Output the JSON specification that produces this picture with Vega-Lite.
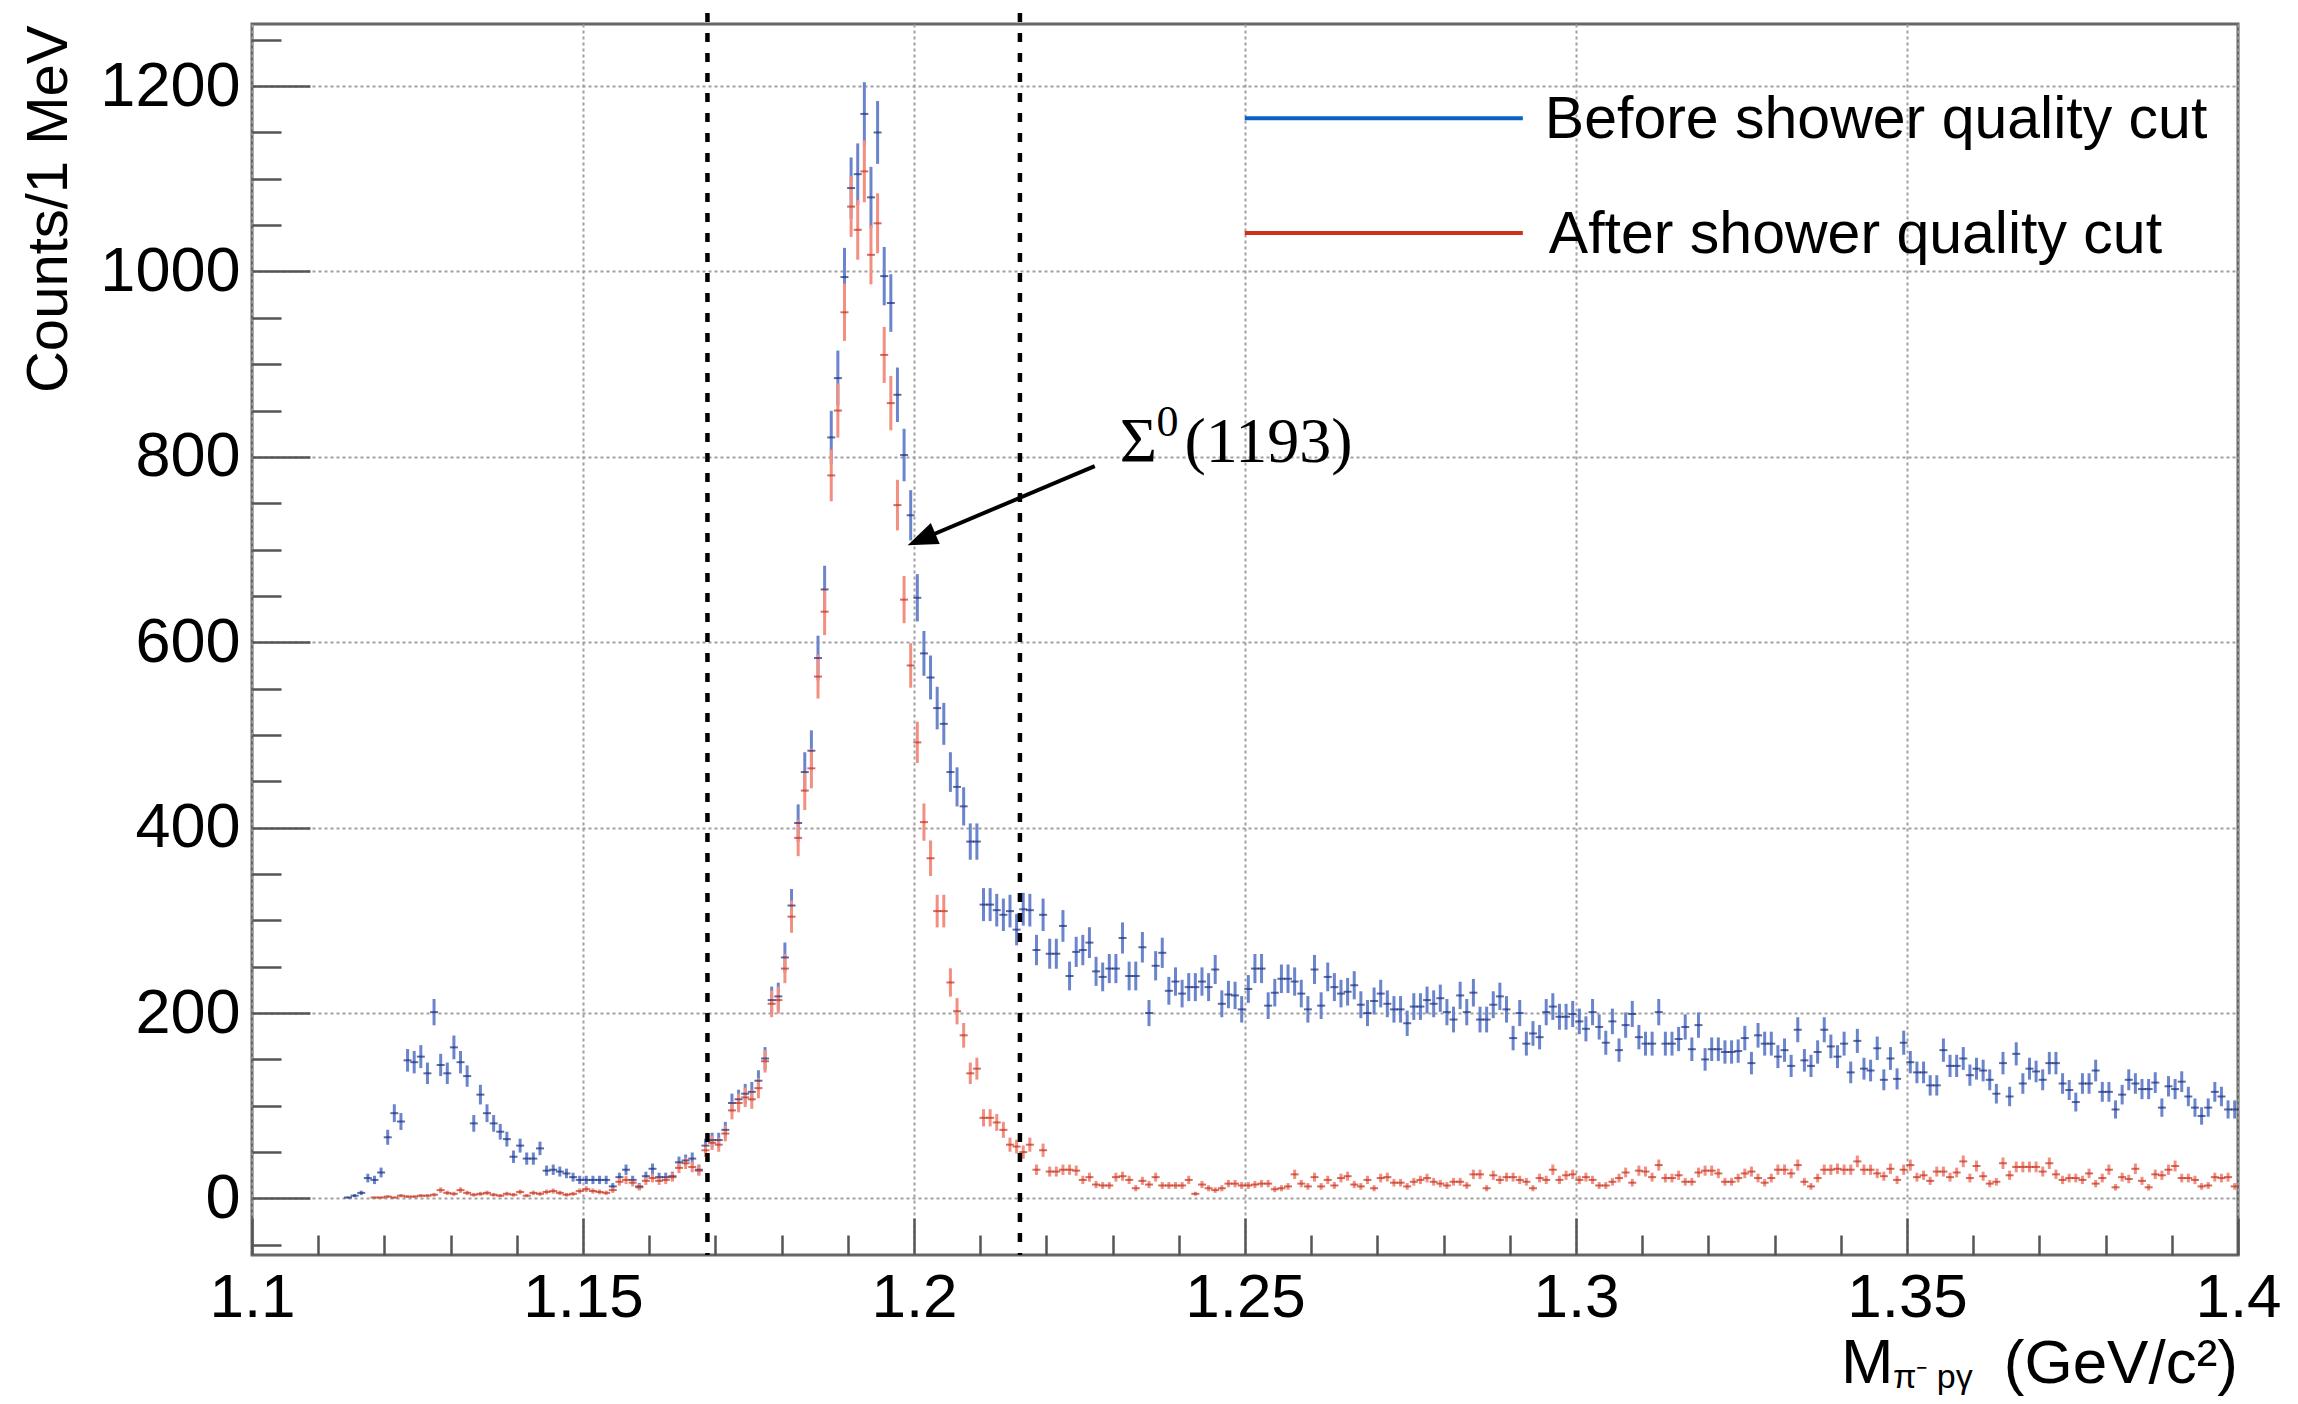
{
"$schema": "https://vega.github.io/schema/vega-lite/v6.json",
"width": 1986,
"height": 1231,
"autosize": "none",
"padding": {"left": 252, "top": 24, "right": 60, "bottom": 149},
"background": "white",
"config": {"view": {"stroke": "#666666", "strokeWidth": 3}, "font": "Liberation Sans"},
"resolve": {"axis": {"x": "independent", "y": "independent"}},
"datasets": {
"before": [
{"m":1.1145,"n":1,"e":1},{"m":1.1155,"n":3,"e":1.7},{"m":1.1165,"n":6,"e":2.4},{"m":1.1175,"n":22,"e":4.7},{"m":1.1185,"n":20,"e":4.5},{"m":1.1195,"n":28,"e":5.3},{"m":1.1205,"n":66,"e":8.1},{"m":1.1215,"n":92,"e":9.6},{"m":1.1225,"n":83,"e":9.1},{"m":1.1235,"n":149,"e":12.2},
{"m":1.1245,"n":147,"e":12.1},{"m":1.1255,"n":153,"e":12.4},{"m":1.1265,"n":135,"e":11.6},{"m":1.1275,"n":201,"e":14.2},{"m":1.1285,"n":144,"e":12},{"m":1.1295,"n":135,"e":11.6},{"m":1.1305,"n":163,"e":12.8},{"m":1.1315,"n":147,"e":12.1},{"m":1.1325,"n":132,"e":11.5},{"m":1.1335,"n":81,"e":9},
{"m":1.1345,"n":112,"e":10.6},{"m":1.1355,"n":92,"e":9.6},{"m":1.1365,"n":81,"e":9},{"m":1.1375,"n":72,"e":8.5},{"m":1.1385,"n":64,"e":8},{"m":1.1395,"n":45,"e":6.7},{"m":1.1405,"n":57,"e":7.5},{"m":1.1415,"n":43,"e":6.6},{"m":1.1425,"n":43,"e":6.6},{"m":1.1435,"n":54,"e":7.3},
{"m":1.1445,"n":30,"e":5.5},{"m":1.1455,"n":31,"e":5.6},{"m":1.1465,"n":29,"e":5.4},{"m":1.1475,"n":27,"e":5.2},{"m":1.1485,"n":23,"e":4.8},{"m":1.1495,"n":20,"e":4.5},{"m":1.1505,"n":20,"e":4.5},{"m":1.1515,"n":20,"e":4.5},{"m":1.1525,"n":20,"e":4.5},{"m":1.1535,"n":20,"e":4.5},
{"m":1.1545,"n":13,"e":3.6},{"m":1.1555,"n":23,"e":4.8},{"m":1.1565,"n":31,"e":5.6},{"m":1.1575,"n":20,"e":4.5},{"m":1.1585,"n":13,"e":3.6},{"m":1.1595,"n":24,"e":4.9},{"m":1.1605,"n":32,"e":5.7},{"m":1.1615,"n":23,"e":4.8},{"m":1.1625,"n":23,"e":4.8},{"m":1.1635,"n":24,"e":4.9},
{"m":1.1645,"n":39,"e":6.2},{"m":1.1655,"n":41,"e":6.4},{"m":1.1665,"n":43,"e":6.6},{"m":1.1675,"n":31,"e":5.6},{"m":1.1685,"n":57,"e":7.5},{"m":1.1695,"n":63,"e":7.9},{"m":1.1705,"n":63,"e":7.9},{"m":1.1715,"n":74,"e":8.6},{"m":1.1725,"n":103,"e":10.1},{"m":1.1735,"n":107,"e":10.3},
{"m":1.1745,"n":113,"e":10.6},{"m":1.1755,"n":115,"e":10.7},{"m":1.1765,"n":127,"e":11.3},{"m":1.1775,"n":151,"e":12.3},{"m":1.1785,"n":214,"e":14.6},{"m":1.1795,"n":218,"e":14.8},{"m":1.1805,"n":260,"e":16.1},{"m":1.1815,"n":316,"e":17.8},{"m":1.1825,"n":405,"e":20.1},{"m":1.1835,"n":460,"e":21.4},
{"m":1.1845,"n":483,"e":22},{"m":1.1855,"n":583,"e":24.1},{"m":1.1865,"n":657,"e":25.6},{"m":1.1875,"n":821,"e":28.7},{"m":1.1885,"n":885,"e":29.7},{"m":1.1895,"n":994,"e":31.5},{"m":1.1905,"n":1090,"e":33},{"m":1.1915,"n":1105,"e":33.2},{"m":1.1925,"n":1170,"e":34.2},{"m":1.1935,"n":1080,"e":32.9},
{"m":1.1945,"n":1150,"e":33.9},{"m":1.1955,"n":995,"e":31.5},{"m":1.1965,"n":966,"e":31.1},{"m":1.1975,"n":867,"e":29.4},{"m":1.1985,"n":802,"e":28.3},{"m":1.1995,"n":737,"e":27.1},{"m":1.2005,"n":648,"e":25.5},{"m":1.2015,"n":588,"e":24.2},{"m":1.2025,"n":562,"e":23.7},{"m":1.2035,"n":529,"e":23},
{"m":1.2045,"n":512,"e":22.6},{"m":1.2055,"n":460,"e":21.4},{"m":1.2065,"n":444,"e":21.1},{"m":1.2075,"n":423,"e":20.6},{"m":1.2085,"n":385,"e":19.6},{"m":1.2095,"n":385,"e":19.6},{"m":1.2105,"n":317,"e":17.8},{"m":1.2115,"n":317,"e":17.8},{"m":1.2125,"n":311,"e":17.6},{"m":1.2135,"n":306,"e":17.5},
{"m":1.2145,"n":310,"e":17.6},{"m":1.2155,"n":290,"e":17},{"m":1.2165,"n":312,"e":17.7},{"m":1.2175,"n":311,"e":17.6},{"m":1.2185,"n":268,"e":16.4},{"m":1.2195,"n":306,"e":17.5},{"m":1.2205,"n":264,"e":16.2},{"m":1.2215,"n":264,"e":16.2},{"m":1.2225,"n":294,"e":17.1},{"m":1.2235,"n":240,"e":15.5},
{"m":1.2245,"n":266,"e":16.3},{"m":1.2255,"n":268,"e":16.4},{"m":1.2265,"n":276,"e":16.6},{"m":1.2275,"n":245,"e":15.7},{"m":1.2285,"n":239,"e":15.5},{"m":1.2295,"n":248,"e":15.7},{"m":1.2305,"n":248,"e":15.7},{"m":1.2315,"n":281,"e":16.8},{"m":1.2325,"n":240,"e":15.5},{"m":1.2335,"n":240,"e":15.5},
{"m":1.2345,"n":271,"e":16.5},{"m":1.2355,"n":200,"e":14.1},{"m":1.2365,"n":251,"e":15.8},{"m":1.2375,"n":265,"e":16.3},{"m":1.2385,"n":224,"e":15},{"m":1.2395,"n":234,"e":15.3},{"m":1.2405,"n":221,"e":14.9},{"m":1.2415,"n":228,"e":15.1},{"m":1.2425,"n":228,"e":15.1},{"m":1.2435,"n":234,"e":15.3},
{"m":1.2445,"n":228,"e":15.1},{"m":1.2455,"n":247,"e":15.7},{"m":1.2465,"n":210,"e":14.5},{"m":1.2475,"n":220,"e":14.8},{"m":1.2485,"n":219,"e":14.8},{"m":1.2495,"n":204,"e":14.3},{"m":1.2505,"n":226,"e":15},{"m":1.2515,"n":248,"e":15.7},{"m":1.2525,"n":248,"e":15.7},{"m":1.2535,"n":208,"e":14.4},
{"m":1.2545,"n":222,"e":14.9},{"m":1.2555,"n":237,"e":15.4},{"m":1.2565,"n":237,"e":15.4},{"m":1.2575,"n":234,"e":15.3},{"m":1.2585,"n":221,"e":14.9},{"m":1.2595,"n":204,"e":14.3},{"m":1.2605,"n":247,"e":15.7},{"m":1.2615,"n":208,"e":14.4},{"m":1.2625,"n":239,"e":15.5},{"m":1.2635,"n":228,"e":15.1},
{"m":1.2645,"n":221,"e":14.9},{"m":1.2655,"n":223,"e":14.9},{"m":1.2665,"n":230,"e":15.2},{"m":1.2675,"n":209,"e":14.5},{"m":1.2685,"n":200,"e":14.1},{"m":1.2695,"n":213,"e":14.6},{"m":1.2705,"n":221,"e":14.9},{"m":1.2715,"n":210,"e":14.5},{"m":1.2725,"n":204,"e":14.3},{"m":1.2735,"n":204,"e":14.3},
{"m":1.2745,"n":189,"e":13.7},{"m":1.2755,"n":207,"e":14.4},{"m":1.2765,"n":207,"e":14.4},{"m":1.2775,"n":214,"e":14.6},{"m":1.2785,"n":210,"e":14.5},{"m":1.2795,"n":216,"e":14.7},{"m":1.2805,"n":201,"e":14.2},{"m":1.2815,"n":193,"e":13.9},{"m":1.2825,"n":219,"e":14.8},{"m":1.2835,"n":201,"e":14.2},
{"m":1.2845,"n":222,"e":14.9},{"m":1.2855,"n":193,"e":13.9},{"m":1.2865,"n":193,"e":13.9},{"m":1.2875,"n":209,"e":14.5},{"m":1.2885,"n":218,"e":14.8},{"m":1.2895,"n":204,"e":14.3},{"m":1.2905,"n":173,"e":13.2},{"m":1.2915,"n":200,"e":14.1},{"m":1.2925,"n":167,"e":12.9},{"m":1.2935,"n":178,"e":13.3},
{"m":1.2945,"n":174,"e":13.2},{"m":1.2955,"n":201,"e":14.2},{"m":1.2965,"n":207,"e":14.4},{"m":1.2975,"n":196,"e":14},{"m":1.2985,"n":196,"e":14},{"m":1.2995,"n":199,"e":14.1},{"m":1.3005,"n":191,"e":13.8},{"m":1.3015,"n":183,"e":13.5},{"m":1.3025,"n":201,"e":14.2},{"m":1.3035,"n":185,"e":13.6},
{"m":1.3045,"n":168,"e":13},{"m":1.3055,"n":191,"e":13.8},{"m":1.3065,"n":160,"e":12.6},{"m":1.3075,"n":187,"e":13.7},{"m":1.3085,"n":199,"e":14.1},{"m":1.3095,"n":174,"e":13.2},{"m":1.3105,"n":167,"e":12.9},{"m":1.3115,"n":167,"e":12.9},{"m":1.3125,"n":201,"e":14.2},{"m":1.3135,"n":167,"e":12.9},
{"m":1.3145,"n":167,"e":12.9},{"m":1.3155,"n":172,"e":13.1},{"m":1.3165,"n":185,"e":13.6},{"m":1.3175,"n":161,"e":12.7},{"m":1.3185,"n":187,"e":13.7},{"m":1.3195,"n":150,"e":12.2},{"m":1.3205,"n":161,"e":12.7},{"m":1.3215,"n":161,"e":12.7},{"m":1.3225,"n":158,"e":12.6},{"m":1.3235,"n":158,"e":12.6},
{"m":1.3245,"n":159,"e":12.6},{"m":1.3255,"n":173,"e":13.2},{"m":1.3265,"n":146,"e":12.1},{"m":1.3275,"n":176,"e":13.3},{"m":1.3285,"n":167,"e":12.9},{"m":1.3295,"n":167,"e":12.9},{"m":1.3305,"n":153,"e":12.4},{"m":1.3315,"n":160,"e":12.6},{"m":1.3325,"n":143,"e":12},{"m":1.3335,"n":182,"e":13.5},
{"m":1.3345,"n":149,"e":12.2},{"m":1.3355,"n":143,"e":12},{"m":1.3365,"n":158,"e":12.6},{"m":1.3375,"n":182,"e":13.5},{"m":1.3385,"n":164,"e":12.8},{"m":1.3395,"n":153,"e":12.4},{"m":1.3405,"n":167,"e":12.9},{"m":1.3415,"n":136,"e":11.7},{"m":1.3425,"n":170,"e":13},{"m":1.3435,"n":140,"e":11.8},
{"m":1.3445,"n":138,"e":11.7},{"m":1.3455,"n":162,"e":12.7},{"m":1.3465,"n":128,"e":11.3},{"m":1.3475,"n":151,"e":12.3},{"m":1.3485,"n":129,"e":11.4},{"m":1.3495,"n":168,"e":13},{"m":1.3505,"n":147,"e":12.1},{"m":1.3515,"n":136,"e":11.7},{"m":1.3525,"n":136,"e":11.7},{"m":1.3535,"n":122,"e":11},
{"m":1.3545,"n":122,"e":11},{"m":1.3555,"n":160,"e":12.6},{"m":1.3565,"n":143,"e":12},{"m":1.3575,"n":143,"e":12},{"m":1.3585,"n":151,"e":12.3},{"m":1.3595,"n":133,"e":11.5},{"m":1.3605,"n":140,"e":11.8},{"m":1.3615,"n":138,"e":11.7},{"m":1.3625,"n":128,"e":11.3},{"m":1.3635,"n":113,"e":10.6},
{"m":1.3645,"n":146,"e":12.1},{"m":1.3655,"n":110,"e":10.5},{"m":1.3665,"n":156,"e":12.5},{"m":1.3675,"n":124,"e":11.1},{"m":1.3685,"n":140,"e":11.8},{"m":1.3695,"n":137,"e":11.7},{"m":1.3705,"n":128,"e":11.3},{"m":1.3715,"n":146,"e":12.1},{"m":1.3725,"n":146,"e":12.1},{"m":1.3735,"n":124,"e":11.1},
{"m":1.3745,"n":117,"e":10.8},{"m":1.3755,"n":104,"e":10.2},{"m":1.3765,"n":124,"e":11.1},{"m":1.3775,"n":124,"e":11.1},{"m":1.3785,"n":138,"e":11.7},{"m":1.3795,"n":115,"e":10.7},{"m":1.3805,"n":115,"e":10.7},{"m":1.3815,"n":96,"e":9.8},{"m":1.3825,"n":112,"e":10.6},{"m":1.3835,"n":128,"e":11.3},
{"m":1.3845,"n":124,"e":11.1},{"m":1.3855,"n":118,"e":10.9},{"m":1.3865,"n":118,"e":10.9},{"m":1.3875,"n":125,"e":11.2},{"m":1.3885,"n":98,"e":9.9},{"m":1.3895,"n":121,"e":11},{"m":1.3905,"n":118,"e":10.9},{"m":1.3915,"n":126,"e":11.2},{"m":1.3925,"n":110,"e":10.5},{"m":1.3935,"n":98,"e":9.9},
{"m":1.3945,"n":89,"e":9.4},{"m":1.3955,"n":98,"e":9.9},{"m":1.3965,"n":115,"e":10.7},{"m":1.3975,"n":110,"e":10.5},{"m":1.3985,"n":96,"e":9.8},{"m":1.3995,"n":96,"e":9.8}
],
"after": [
{"m":1.1185,"n":1,"e":1},{"m":1.1195,"n":1,"e":1},{"m":1.1205,"n":2,"e":1.4},{"m":1.1215,"n":1,"e":1},{"m":1.1225,"n":3,"e":1.7},{"m":1.1235,"n":2,"e":1.4},{"m":1.1245,"n":2,"e":1.4},{"m":1.1255,"n":3,"e":1.7},{"m":1.1265,"n":3,"e":1.7},{"m":1.1275,"n":4,"e":2},
{"m":1.1285,"n":9,"e":3},{"m":1.1295,"n":6,"e":2.4},{"m":1.1305,"n":5,"e":2.2},{"m":1.1315,"n":9,"e":3},{"m":1.1325,"n":6,"e":2.4},{"m":1.1335,"n":4,"e":2},{"m":1.1345,"n":5,"e":2.2},{"m":1.1355,"n":6,"e":2.4},{"m":1.1365,"n":4,"e":2},{"m":1.1375,"n":3,"e":1.7},
{"m":1.1385,"n":5,"e":2.2},{"m":1.1395,"n":4,"e":2},{"m":1.1405,"n":7,"e":2.6},{"m":1.1415,"n":3,"e":1.7},{"m":1.1425,"n":6,"e":2.4},{"m":1.1435,"n":5,"e":2.2},{"m":1.1445,"n":7,"e":2.6},{"m":1.1455,"n":8,"e":2.8},{"m":1.1465,"n":6,"e":2.4},{"m":1.1475,"n":4,"e":2},
{"m":1.1485,"n":5,"e":2.2},{"m":1.1495,"n":8,"e":2.8},{"m":1.1505,"n":10,"e":3.2},{"m":1.1515,"n":8,"e":2.8},{"m":1.1525,"n":7,"e":2.6},{"m":1.1535,"n":6,"e":2.4},{"m":1.1545,"n":9,"e":3},{"m":1.1555,"n":18,"e":4.2},{"m":1.1565,"n":20,"e":4.5},{"m":1.1575,"n":17,"e":4.1},
{"m":1.1585,"n":12,"e":3.5},{"m":1.1595,"n":19,"e":4.4},{"m":1.1605,"n":22,"e":4.7},{"m":1.1615,"n":19,"e":4.4},{"m":1.1625,"n":20,"e":4.5},{"m":1.1635,"n":23,"e":4.8},{"m":1.1645,"n":33,"e":5.7},{"m":1.1655,"n":38,"e":6.2},{"m":1.1665,"n":34,"e":5.8},{"m":1.1675,"n":30,"e":5.5},
{"m":1.1685,"n":52,"e":7.2},{"m":1.1695,"n":60,"e":7.7},{"m":1.1705,"n":58,"e":7.6},{"m":1.1715,"n":70,"e":8.4},{"m":1.1725,"n":95,"e":9.7},{"m":1.1735,"n":103,"e":10.1},{"m":1.1745,"n":109,"e":10.4},{"m":1.1755,"n":107,"e":10.3},{"m":1.1765,"n":119,"e":10.9},{"m":1.1775,"n":148,"e":12.2},
{"m":1.1785,"n":210,"e":14.5},{"m":1.1795,"n":214,"e":14.6},{"m":1.1805,"n":248,"e":15.7},{"m":1.1815,"n":304,"e":17.4},{"m":1.1825,"n":389,"e":19.7},{"m":1.1835,"n":440,"e":21},{"m":1.1845,"n":464,"e":21.5},{"m":1.1855,"n":563,"e":23.7},{"m":1.1865,"n":633,"e":25.2},{"m":1.1875,"n":780,"e":27.9},
{"m":1.1885,"n":850,"e":29.2},{"m":1.1895,"n":956,"e":30.9},{"m":1.1905,"n":1070,"e":32.7},{"m":1.1915,"n":1045,"e":32.3},{"m":1.1925,"n":1108,"e":33.3},{"m":1.1935,"n":1018,"e":31.9},{"m":1.1945,"n":1052,"e":32.4},{"m":1.1955,"n":910,"e":30.2},{"m":1.1965,"n":858,"e":29.3},{"m":1.1975,"n":748,"e":27.3},
{"m":1.1985,"n":646,"e":25.4},{"m":1.1995,"n":575,"e":24},{"m":1.2005,"n":492,"e":22.2},{"m":1.2015,"n":406,"e":20.1},{"m":1.2025,"n":367,"e":19.2},{"m":1.2035,"n":310,"e":17.6},{"m":1.2045,"n":310,"e":17.6},{"m":1.2055,"n":233,"e":15.3},{"m":1.2065,"n":202,"e":14.2},{"m":1.2075,"n":176,"e":13.3},
{"m":1.2085,"n":135,"e":11.6},{"m":1.2095,"n":140,"e":11.8},{"m":1.2105,"n":87,"e":9.3},{"m":1.2115,"n":87,"e":9.3},{"m":1.2125,"n":82,"e":9.1},{"m":1.2135,"n":74,"e":8.6},{"m":1.2145,"n":58,"e":7.6},{"m":1.2155,"n":56,"e":7.5},{"m":1.2165,"n":50,"e":7.1},{"m":1.2175,"n":58,"e":7.6},
{"m":1.2185,"n":31,"e":5.6},{"m":1.2195,"n":52,"e":7.2},{"m":1.2205,"n":29,"e":5.4},{"m":1.2215,"n":29,"e":5.4},{"m":1.2225,"n":31,"e":5.6},{"m":1.2235,"n":31,"e":5.6},{"m":1.2245,"n":30,"e":5.5},{"m":1.2255,"n":20,"e":4.5},{"m":1.2265,"n":23,"e":4.8},{"m":1.2275,"n":15,"e":3.9},
{"m":1.2285,"n":14,"e":3.7},{"m":1.2295,"n":14,"e":3.7},{"m":1.2305,"n":23,"e":4.8},{"m":1.2315,"n":24,"e":4.9},{"m":1.2325,"n":20,"e":4.5},{"m":1.2335,"n":11,"e":3.3},{"m":1.2345,"n":19,"e":4.4},{"m":1.2355,"n":15,"e":3.9},{"m":1.2365,"n":23,"e":4.8},{"m":1.2375,"n":14,"e":3.7},
{"m":1.2385,"n":14,"e":3.7},{"m":1.2395,"n":14,"e":3.7},{"m":1.2405,"n":14,"e":3.7},{"m":1.2415,"n":20,"e":4.5},{"m":1.2425,"n":5,"e":2.2},{"m":1.2435,"n":15,"e":3.9},{"m":1.2445,"n":11,"e":3.3},{"m":1.2455,"n":9,"e":3},{"m":1.2465,"n":11,"e":3.3},{"m":1.2475,"n":16,"e":4},
{"m":1.2485,"n":16,"e":4},{"m":1.2495,"n":14,"e":3.7},{"m":1.2505,"n":14,"e":3.7},{"m":1.2515,"n":15,"e":3.9},{"m":1.2525,"n":16,"e":4},{"m":1.2535,"n":16,"e":4},{"m":1.2545,"n":10,"e":3.2},{"m":1.2555,"n":11,"e":3.3},{"m":1.2565,"n":13,"e":3.6},{"m":1.2575,"n":26,"e":5.1},
{"m":1.2585,"n":16,"e":4},{"m":1.2595,"n":13,"e":3.6},{"m":1.2605,"n":23,"e":4.8},{"m":1.2615,"n":13,"e":3.6},{"m":1.2625,"n":20,"e":4.5},{"m":1.2635,"n":14,"e":3.7},{"m":1.2645,"n":22,"e":4.7},{"m":1.2655,"n":24,"e":4.9},{"m":1.2665,"n":15,"e":3.9},{"m":1.2675,"n":13,"e":3.6},
{"m":1.2685,"n":20,"e":4.5},{"m":1.2695,"n":11,"e":3.3},{"m":1.2705,"n":22,"e":4.7},{"m":1.2715,"n":23,"e":4.8},{"m":1.2725,"n":17,"e":4.1},{"m":1.2735,"n":17,"e":4.1},{"m":1.2745,"n":13,"e":3.6},{"m":1.2755,"n":18,"e":4.2},{"m":1.2765,"n":20,"e":4.5},{"m":1.2775,"n":22,"e":4.7},
{"m":1.2785,"n":18,"e":4.2},{"m":1.2795,"n":16,"e":4},{"m":1.2805,"n":14,"e":3.7},{"m":1.2815,"n":18,"e":4.2},{"m":1.2825,"n":18,"e":4.2},{"m":1.2835,"n":14,"e":3.7},{"m":1.2845,"n":26,"e":5.1},{"m":1.2855,"n":26,"e":5.1},{"m":1.2865,"n":11,"e":3.3},{"m":1.2875,"n":25,"e":5},
{"m":1.2885,"n":20,"e":4.5},{"m":1.2895,"n":23,"e":4.8},{"m":1.2905,"n":23,"e":4.8},{"m":1.2915,"n":20,"e":4.5},{"m":1.2925,"n":18,"e":4.2},{"m":1.2935,"n":11,"e":3.3},{"m":1.2945,"n":22,"e":4.7},{"m":1.2955,"n":20,"e":4.5},{"m":1.2965,"n":31,"e":5.6},{"m":1.2975,"n":20,"e":4.5},
{"m":1.2985,"n":25,"e":5},{"m":1.2995,"n":26,"e":5.1},{"m":1.3005,"n":20,"e":4.5},{"m":1.3015,"n":23,"e":4.8},{"m":1.3025,"n":20,"e":4.5},{"m":1.3035,"n":14,"e":3.7},{"m":1.3045,"n":14,"e":3.7},{"m":1.3055,"n":18,"e":4.2},{"m":1.3065,"n":22,"e":4.7},{"m":1.3075,"n":28,"e":5.3},
{"m":1.3085,"n":17,"e":4.1},{"m":1.3095,"n":30,"e":5.5},{"m":1.3105,"n":29,"e":5.4},{"m":1.3115,"n":23,"e":4.8},{"m":1.3125,"n":36,"e":6},{"m":1.3135,"n":22,"e":4.7},{"m":1.3145,"n":22,"e":4.7},{"m":1.3155,"n":25,"e":5},{"m":1.3165,"n":18,"e":4.2},{"m":1.3175,"n":18,"e":4.2},
{"m":1.3185,"n":28,"e":5.3},{"m":1.3195,"n":30,"e":5.5},{"m":1.3205,"n":30,"e":5.5},{"m":1.3215,"n":27,"e":5.2},{"m":1.3225,"n":18,"e":4.2},{"m":1.3235,"n":18,"e":4.2},{"m":1.3245,"n":22,"e":4.7},{"m":1.3255,"n":27,"e":5.2},{"m":1.3265,"n":29,"e":5.4},{"m":1.3275,"n":22,"e":4.7},
{"m":1.3285,"n":17,"e":4.1},{"m":1.3295,"n":22,"e":4.7},{"m":1.3305,"n":31,"e":5.6},{"m":1.3315,"n":31,"e":5.6},{"m":1.3325,"n":27,"e":5.2},{"m":1.3335,"n":36,"e":6},{"m":1.3345,"n":18,"e":4.2},{"m":1.3355,"n":13,"e":3.6},{"m":1.3365,"n":22,"e":4.7},{"m":1.3375,"n":31,"e":5.6},
{"m":1.3385,"n":31,"e":5.6},{"m":1.3395,"n":32,"e":5.7},{"m":1.3405,"n":31,"e":5.6},{"m":1.3415,"n":31,"e":5.6},{"m":1.3425,"n":40,"e":6.3},{"m":1.3435,"n":31,"e":5.6},{"m":1.3445,"n":31,"e":5.6},{"m":1.3455,"n":27,"e":5.2},{"m":1.3465,"n":24,"e":4.9},{"m":1.3475,"n":32,"e":5.7},
{"m":1.3485,"n":20,"e":4.5},{"m":1.3495,"n":31,"e":5.6},{"m":1.3505,"n":36,"e":6},{"m":1.3515,"n":23,"e":4.8},{"m":1.3525,"n":25,"e":5},{"m":1.3535,"n":19,"e":4.4},{"m":1.3545,"n":29,"e":5.4},{"m":1.3555,"n":29,"e":5.4},{"m":1.3565,"n":23,"e":4.8},{"m":1.3575,"n":28,"e":5.3},
{"m":1.3585,"n":40,"e":6.3},{"m":1.3595,"n":22,"e":4.7},{"m":1.3605,"n":35,"e":5.9},{"m":1.3615,"n":24,"e":4.9},{"m":1.3625,"n":16,"e":4},{"m":1.3635,"n":18,"e":4.2},{"m":1.3645,"n":38,"e":6.2},{"m":1.3655,"n":25,"e":5},{"m":1.3665,"n":34,"e":5.8},{"m":1.3675,"n":34,"e":5.8},
{"m":1.3685,"n":34,"e":5.8},{"m":1.3695,"n":34,"e":5.8},{"m":1.3705,"n":29,"e":5.4},{"m":1.3715,"n":38,"e":6.2},{"m":1.3725,"n":26,"e":5.1},{"m":1.3735,"n":20,"e":4.5},{"m":1.3745,"n":22,"e":4.7},{"m":1.3755,"n":22,"e":4.7},{"m":1.3765,"n":20,"e":4.5},{"m":1.3775,"n":27,"e":5.2},
{"m":1.3785,"n":16,"e":4},{"m":1.3795,"n":22,"e":4.7},{"m":1.3805,"n":31,"e":5.6},{"m":1.3815,"n":12,"e":3.5},{"m":1.3825,"n":23,"e":4.8},{"m":1.3835,"n":21,"e":4.6},{"m":1.3845,"n":32,"e":5.7},{"m":1.3855,"n":19,"e":4.4},{"m":1.3865,"n":12,"e":3.5},{"m":1.3875,"n":26,"e":5.1},
{"m":1.3885,"n":25,"e":5},{"m":1.3895,"n":31,"e":5.6},{"m":1.3905,"n":35,"e":5.9},{"m":1.3915,"n":22,"e":4.7},{"m":1.3925,"n":22,"e":4.7},{"m":1.3935,"n":20,"e":4.5},{"m":1.3945,"n":13,"e":3.6},{"m":1.3955,"n":14,"e":3.7},{"m":1.3965,"n":23,"e":4.8},{"m":1.3975,"n":22,"e":4.7},
{"m":1.3985,"n":23,"e":4.8},{"m":1.3995,"n":13,"e":3.6}
],
"cuts": [{"c":1.1688},{"c":1.216}],
"one": [{}]
},
"layer": [
{
"data": {"name": "before"},
"mark": {"type": "errorbar", "ticks": false, "color": "#6a85cc", "thickness": 3},
"encoding": {
"x": {"field": "m", "type": "quantitative", "scale": {"domain": [1.1, 1.4], "nice": false, "zero": false},
 "axis": {"orient": "bottom", "values": [1.1, 1.15, 1.2, 1.25, 1.3, 1.35, 1.4], "format": "~g", "ticks": false, "domain": false, "grid": true, "gridColor": "#a0a0a0", "gridDash": [3, 3], "gridWidth": 2, "labelFont": "Liberation Sans", "labelFontSize": 62, "labelColor": "#000000", "labelPadding": 12, "labelFlush": false, "labelOverlap": false, "title": null, "zindex": 0}},
"y": {"field": "n", "type": "quantitative", "scale": {"domain": [-61, 1267], "nice": false, "zero": false},
 "axis": {"orient": "left", "values": [0, 200, 400, 600, 800, 1000, 1200], "format": "d", "ticks": false, "domain": false, "grid": true, "gridColor": "#a0a0a0", "gridDash": [3, 3], "gridWidth": 2, "labelFont": "Liberation Sans", "labelFontSize": 63, "labelColor": "#000000", "labelPadding": 12, "labelFlush": false, "labelOverlap": false, "title": "Counts/1 MeV", "titleFont": "Liberation Sans", "titleFontSize": 58, "titleFontWeight": "normal", "titleColor": "#000000", "titleAngle": 270, "titleAlign": "right", "titleBaseline": "alphabetic", "titleX": -186, "titleY": 1, "zindex": 0}},
"yError": {"field": "e"}
}
},
{
"data": {"name": "after"},
"mark": {"type": "errorbar", "ticks": false, "color": "#f28f80", "thickness": 3},
"encoding": {
"x": {"field": "m", "type": "quantitative", "scale": {"domain": [1.1, 1.4]},
 "axis": {"orient": "bottom", "values": [1.1, 1.15, 1.2, 1.25, 1.3, 1.35, 1.4], "ticks": true, "tickSize": -37, "tickColor": "#555555", "tickWidth": 2.5, "labels": false, "domain": false, "grid": false, "title": null, "zindex": 1}},
"y": {"field": "n", "type": "quantitative", "scale": {"domain": [-61, 1267]},
 "axis": {"orient": "left", "values": [0, 200, 400, 600, 800, 1000, 1200], "ticks": true, "tickSize": -58, "tickColor": "#555555", "tickWidth": 2.5, "labels": false, "domain": false, "grid": false, "title": null, "zindex": 1}},
"yError": {"field": "e"}
}
},
{
"data": {"name": "before"},
"mark": {"type": "tick", "orient": "horizontal", "color": "#1b2d7e", "size": 8, "thickness": 2},
"encoding": {
"x": {"field": "m", "type": "quantitative", "scale": {"domain": [1.1, 1.4]},
 "axis": {"orient": "bottom", "values": [1.11, 1.12, 1.13, 1.14, 1.16, 1.17, 1.18, 1.19, 1.21, 1.22, 1.23, 1.24, 1.26, 1.27, 1.28, 1.29, 1.31, 1.32, 1.33, 1.34, 1.36, 1.37, 1.38, 1.39], "ticks": true, "tickSize": -20, "tickColor": "#555555", "tickWidth": 2.5, "labels": false, "domain": false, "grid": false, "title": null, "zindex": 1}},
"y": {"field": "n", "type": "quantitative", "scale": {"domain": [-61, 1267]},
 "axis": {"orient": "left", "values": [-50, 50, 100, 150, 250, 300, 350, 450, 500, 550, 650, 700, 750, 850, 900, 950, 1050, 1100, 1150, 1250], "ticks": true, "tickSize": -29, "tickColor": "#555555", "tickWidth": 2.5, "labels": false, "domain": false, "grid": false, "title": null, "zindex": 1}}
}
},
{
"data": {"name": "after"},
"mark": {"type": "tick", "orient": "horizontal", "color": "#c0301e", "size": 8, "thickness": 2},
"encoding": {
"x": {"field": "m", "type": "quantitative", "scale": {"domain": [1.1, 1.4]}, "axis": null},
"y": {"field": "n", "type": "quantitative", "scale": {"domain": [-61, 1267]}, "axis": null}
}
},
{
"data": {"name": "cuts"},
"mark": {"type": "rule", "color": "#000000", "strokeWidth": 4.5, "strokeDash": [9, 11]},
"encoding": {
"x": {"field": "c", "type": "quantitative", "scale": {"domain": [1.1, 1.4]}, "axis": null},
"y": {"datum": 1279, "type": "quantitative", "scale": {"domain": [-61, 1267]}, "axis": null},
"y2": {"datum": -61}
}
},
{
"data": {"name": "one"},
"mark": {"type": "rule", "color": "#000000", "strokeWidth": 4},
"encoding": {
"x": {"datum": 1.2273, "type": "quantitative", "scale": {"domain": [1.1, 1.4]}, "axis": null},
"y": {"datum": 790, "type": "quantitative", "scale": {"domain": [-61, 1267]}, "axis": null},
"x2": {"datum": 1.201},
"y2": {"datum": 710.6}
}
},
{
"data": {"name": "one"},
"mark": {"type": "point", "shape": "M0,0L-0.38,1L0.38,1Z", "size": 3600, "angle": 247, "filled": true, "color": "#000000", "opacity": 1, "strokeWidth": 0},
"encoding": {
"x": {"datum": 1.19904, "type": "quantitative", "scale": {"domain": [1.1, 1.4]}, "axis": null},
"y": {"datum": 704.7, "type": "quantitative", "scale": {"domain": [-61, 1267]}, "axis": null}
}
},
{
"data": {"name": "one"},
"mark": {"type": "text", "text": "Σ", "font": "Liberation Serif", "fontSize": 64, "align": "left", "baseline": "alphabetic", "color": "#000000"},
"encoding": {
"x": {"datum": 1.23108, "type": "quantitative", "scale": {"domain": [1.1, 1.4]}, "axis": null},
"y": {"datum": 795, "type": "quantitative", "scale": {"domain": [-61, 1267]}, "axis": null}
}
},
{
"data": {"name": "one"},
"mark": {"type": "text", "text": "0", "font": "Liberation Serif", "fontSize": 44, "align": "left", "baseline": "alphabetic", "color": "#000000"},
"encoding": {
"x": {"datum": 1.23662, "type": "quantitative", "scale": {"domain": [1.1, 1.4]}, "axis": null},
"y": {"datum": 822, "type": "quantitative", "scale": {"domain": [-61, 1267]}, "axis": null}
}
},
{
"data": {"name": "one"},
"mark": {"type": "text", "text": "(1193)", "font": "Liberation Serif", "fontSize": 64, "align": "left", "baseline": "alphabetic", "color": "#000000"},
"encoding": {
"x": {"datum": 1.24085, "type": "quantitative", "scale": {"domain": [1.1, 1.4]}, "axis": null},
"y": {"datum": 795, "type": "quantitative", "scale": {"domain": [-61, 1267]}, "axis": null}
}
},
{
"data": {"name": "one"},
"mark": {"type": "rule", "color": "#0a62c4", "strokeWidth": 4},
"encoding": {
"x": {"datum": 1.24996, "type": "quantitative", "scale": {"domain": [1.1, 1.4]}, "axis": null},
"x2": {"datum": 1.29197},
"y": {"datum": 1165.4, "type": "quantitative", "scale": {"domain": [-61, 1267]}, "axis": null}
}
},
{
"data": {"name": "one"},
"mark": {"type": "rule", "color": "#cb3218", "strokeWidth": 4},
"encoding": {
"x": {"datum": 1.24996, "type": "quantitative", "scale": {"domain": [1.1, 1.4]}, "axis": null},
"x2": {"datum": 1.29197},
"y": {"datum": 1041.6, "type": "quantitative", "scale": {"domain": [-61, 1267]}, "axis": null}
}
},
{
"data": {"name": "one"},
"mark": {"type": "text", "text": "Before shower quality cut", "font": "Liberation Sans", "fontSize": 59, "align": "left", "baseline": "alphabetic", "color": "#000000"},
"encoding": {
"x": {"datum": 1.29529, "type": "quantitative", "scale": {"domain": [1.1, 1.4]}, "axis": null},
"y": {"datum": 1143.8, "type": "quantitative", "scale": {"domain": [-61, 1267]}, "axis": null}
}
},
{
"data": {"name": "one"},
"mark": {"type": "text", "text": "After shower quality cut", "font": "Liberation Sans", "fontSize": 59, "align": "left", "baseline": "alphabetic", "color": "#000000"},
"encoding": {
"x": {"datum": 1.2959, "type": "quantitative", "scale": {"domain": [1.1, 1.4]}, "axis": null},
"y": {"datum": 1019.7, "type": "quantitative", "scale": {"domain": [-61, 1267]}, "axis": null}
}
},
{
"data": {"name": "one"},
"mark": {"type": "text", "text": "M", "font": "Liberation Sans", "fontSize": 63, "align": "left", "baseline": "alphabetic", "color": "#000000"},
"encoding": {
"x": {"datum": 1.34002, "type": "quantitative", "scale": {"domain": [1.1, 1.4]}, "axis": null},
"y": {"datum": -199.2, "type": "quantitative", "scale": {"domain": [-61, 1267]}, "axis": null}
}
},
{
"data": {"name": "one"},
"mark": {"type": "text", "text": "π⁻ pγ", "font": "Liberation Sans", "fontSize": 34, "align": "left", "baseline": "alphabetic", "color": "#000000"},
"encoding": {
"x": {"datum": 1.34788, "type": "quantitative", "scale": {"domain": [1.1, 1.4]}, "axis": null},
"y": {"datum": -205, "type": "quantitative", "scale": {"domain": [-61, 1267]}, "axis": null}
}
},
{
"data": {"name": "one"},
"mark": {"type": "text", "text": "(GeV/c²)", "font": "Liberation Sans", "fontSize": 62, "align": "right", "baseline": "alphabetic", "color": "#000000"},
"encoding": {
"x": {"datum": 1.4, "type": "quantitative", "scale": {"domain": [1.1, 1.4]}, "axis": null},
"y": {"datum": -199.2, "type": "quantitative", "scale": {"domain": [-61, 1267]}, "axis": null}
}
}
]
}
